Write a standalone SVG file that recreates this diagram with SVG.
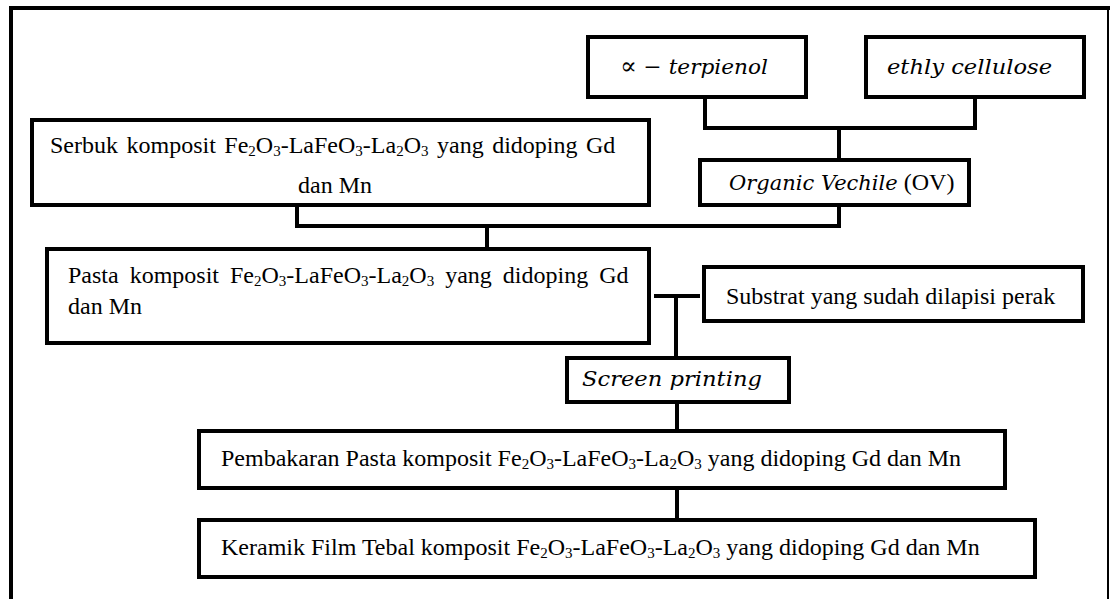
<svg xmlns="http://www.w3.org/2000/svg" width="1110" height="599" viewBox="0 0 1110 599">
<style>
.box{fill:#fff;stroke:#000;stroke-width:4}
.ln{fill:none;stroke:#000;stroke-width:4}
.t{font-family:"Liberation Serif","Times New Roman",serif;font-size:24px;fill:#000}
.m{font-family:"DejaVu Serif","Liberation Serif",serif;font-style:italic;font-size:21px;fill:#000}
.sb{font-size:15px}
</style>
<rect width="1110" height="599" fill="#fff"/>
<g id="frame">
<path d="M11,599 V8 H1110" fill="none" stroke="#000" stroke-width="4"/>
<path d="M1108,8 V599" fill="none" stroke="#000" stroke-width="2"/>
</g>
<g id="connectors">
<path class="ln" d="M705,97 V128 H975 V97"/>
<path class="ln" d="M839,128 V160"/>
<path class="ln" d="M297,205 V226 H839 V205"/>
<path class="ln" d="M487,226 V249"/>
<path class="ln" d="M654,296 H700"/>
<path class="ln" d="M676,296 V358"/>
<path class="ln" d="M677,402 V431"/>
<path class="ln" d="M677,488 V520"/>
</g>
<g id="terpienol">
<rect class="box" x="588" y="37" width="218" height="60"/>
<text class="m" x="620" y="74" textLength="148" lengthAdjust="spacingAndGlyphs"><tspan font-style="normal" font-size="24">∝</tspan><tspan font-style="normal"> − </tspan>terpienol</text>
</g>
<g id="ethyl">
<rect class="box" x="866" y="37" width="218" height="60"/>
<text class="m" x="887" y="74" textLength="165" lengthAdjust="spacingAndGlyphs">ethly cellulose</text>
</g>
<g id="serbuk">
<rect class="box" x="32" y="120" width="617" height="85"/>
<text class="t" x="50" y="153" word-spacing="2.5">Serbuk komposit Fe<tspan class="sb" dy="3">2</tspan><tspan dy="-3">O</tspan><tspan class="sb" dy="3">3</tspan><tspan dy="-3">-LaFeO</tspan><tspan class="sb" dy="3">3</tspan><tspan dy="-3">-La</tspan><tspan class="sb" dy="3">2</tspan><tspan dy="-3">O</tspan><tspan class="sb" dy="3">3</tspan><tspan dy="-3"> yang didoping Gd</tspan></text>
<text class="t" x="335" y="193" text-anchor="middle">dan Mn</text>
</g>
<g id="ov">
<rect class="box" x="700" y="160" width="269" height="45"/>
<text class="t" x="729" y="190"><tspan class="m" font-size="20">Organic Vechile</tspan> (OV)</text>
</g>
<g id="pasta">
<rect class="box" x="47" y="249" width="602" height="94"/>
<text class="t" x="68" y="283" word-spacing="5">Pasta komposit Fe<tspan class="sb" dy="3">2</tspan><tspan dy="-3">O</tspan><tspan class="sb" dy="3">3</tspan><tspan dy="-3">-LaFeO</tspan><tspan class="sb" dy="3">3</tspan><tspan dy="-3">-La</tspan><tspan class="sb" dy="3">2</tspan><tspan dy="-3">O</tspan><tspan class="sb" dy="3">3</tspan><tspan dy="-3"> yang didoping Gd</tspan></text>
<text class="t" x="68" y="314">dan Mn</text>
</g>
<g id="substrat">
<rect class="box" x="704" y="267" width="379" height="54"/>
<text class="t" x="726" y="304">Substrat yang sudah dilapisi perak</text>
</g>
<g id="screen">
<rect class="box" x="567" y="358" width="222" height="44"/>
<text class="m" x="582" y="386" textLength="180" lengthAdjust="spacingAndGlyphs">Screen printing</text>
</g>
<g id="pembakaran">
<rect class="box" x="199" y="431" width="806" height="57"/>
<text class="t" x="221" y="466">Pembakaran Pasta komposit Fe<tspan class="sb" dy="3">2</tspan><tspan dy="-3">O</tspan><tspan class="sb" dy="3">3</tspan><tspan dy="-3">-LaFeO</tspan><tspan class="sb" dy="3">3</tspan><tspan dy="-3">-La</tspan><tspan class="sb" dy="3">2</tspan><tspan dy="-3">O</tspan><tspan class="sb" dy="3">3</tspan><tspan dy="-3"> yang didoping Gd dan Mn</tspan></text>
</g>
<g id="keramik">
<rect class="box" x="199" y="520" width="836" height="57"/>
<text class="t" x="221" y="555">Keramik Film Tebal komposit Fe<tspan class="sb" dy="3">2</tspan><tspan dy="-3">O</tspan><tspan class="sb" dy="3">3</tspan><tspan dy="-3">-LaFeO</tspan><tspan class="sb" dy="3">3</tspan><tspan dy="-3">-La</tspan><tspan class="sb" dy="3">2</tspan><tspan dy="-3">O</tspan><tspan class="sb" dy="3">3</tspan><tspan dy="-3"> yang didoping Gd dan Mn</tspan></text>
</g>
</svg>
